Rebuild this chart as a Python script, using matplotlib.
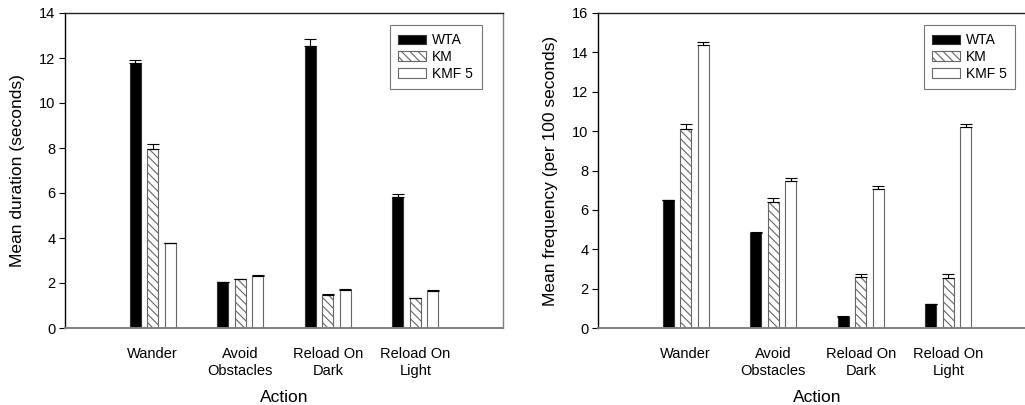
import matplotlib
matplotlib.use("Agg")
import matplotlib.pyplot as plt
import numpy as np

plt.rcParams['font.family'] = ['Liberation Sans', 'DejaVu Sans']
plt.rcParams['hatch.color'] = '#555555'
plt.rcParams['hatch.linewidth'] = 0.8

categories = ["Wander", "Avoid\nObstacles", "Reload On\nDark", "Reload On\nLight"]
series = ["WTA", "KM", "KMF 5"]

duration_wta = [11.8, 2.03, 12.55, 5.84]
duration_km = [7.95, 2.16, 1.45, 1.32]
duration_kmf5 = [3.76, 2.31, 1.69, 1.64]
duration_wta_err = [0.13, 0.03, 0.28, 0.12]
duration_km_err = [0.22, 0.03, 0.04, 0.03]
duration_kmf5_err = [0.03, 0.03, 0.03, 0.03]

freq_wta = [6.49, 4.84, 0.58, 1.2]
freq_km = [10.11, 6.42, 2.57, 2.54]
freq_kmf5 = [14.37, 7.47, 7.06, 10.23]
freq_wta_err = [0.03, 0.05, 0.02, 0.03]
freq_km_err = [0.25, 0.18, 0.17, 0.2]
freq_kmf5_err = [0.14, 0.13, 0.14, 0.12]

fig = plt.figure(figsize=(10.25, 4.05), dpi=100)
W, H = 1025.0, 405.0

def make_axes(x0):
    return fig.add_axes([x0 / W, (H - 328) / H, 438 / W, 315 / H])

styles = [dict(facecolor='black', edgecolor='#333333', hatch=None),
          dict(facecolor='white', edgecolor='#666666', hatch='\\\\\\\\'),
          dict(facecolor='white', edgecolor='#666666', hatch=None)]

def draw(ax, vals, errs, ymax, ylabel, legend_x):
    x = np.arange(1, len(categories) + 1)
    offsets = [-0.2, 0.0, 0.2]
    width = 0.125
    for i, (v, e) in enumerate(zip(vals, errs)):
        st = styles[i]
        ax.bar(x + offsets[i], v, width, facecolor=st['facecolor'],
               edgecolor=st['edgecolor'], hatch=st['hatch'], linewidth=0.8,
               label=series[i], zorder=2)
        ax.errorbar(x + offsets[i], v, yerr=[np.zeros(len(v)), e], fmt='none',
                    ecolor='black', elinewidth=0.8, capsize=4, capthick=0.8, zorder=3)
    ax.set_xlim(0, 5)
    ax.set_ylim(0, ymax)
    ax.set_yticks(np.arange(0, ymax + 1, 2))
    ax.set_xticks(x)
    ax.set_xticklabels(categories, fontsize=10.5, linespacing=1.2)
    ax.tick_params(axis='x', length=0, pad=14)
    ax.tick_params(axis='y', direction='out', length=4, width=0.8, labelsize=10.5, pad=3)
    ax.spines['left'].set_color('black')
    ax.spines['top'].set_color('#222222')
    ax.spines['bottom'].set_color('#808080')
    ax.spines['right'].set_color('#808080')
    for s in ax.spines.values():
        s.set_linewidth(1.0)
    ax.spines['bottom'].set_linewidth(1.4)
    ax.set_ylabel(ylabel, fontsize=12.5, labelpad=10)
    ax.set_xlabel("Action", fontsize=12.5, labelpad=9)
    leg = ax.legend(loc='upper left', bbox_to_anchor=(legend_x, 0.962), fancybox=False,
                    edgecolor='#555555', fontsize=10, handlelength=2.0, handleheight=0.7,
                    handletextpad=0.45, borderpad=0.6, labelspacing=0.2, borderaxespad=0)
    leg.get_frame().set_linewidth(0.8)

ax1 = make_axes(65)
draw(ax1, [duration_wta, duration_km, duration_kmf5],
     [duration_wta_err, duration_km_err, duration_kmf5_err], 14,
     "Mean duration (seconds)", 0.742)

ax2 = make_axes(598)
draw(ax2, [freq_wta, freq_km, freq_kmf5],
     [freq_wta_err, freq_km_err, freq_kmf5_err], 16,
     "Mean frequency (per 100 seconds)", 0.744)

fig.savefig("out.png", dpi=100)
